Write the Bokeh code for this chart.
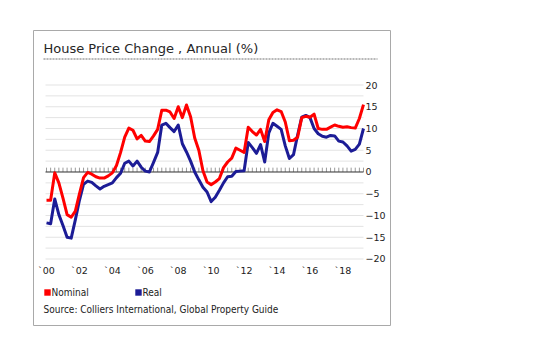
from bokeh.plotting import figure
from bokeh.models import (Label, BoxAnnotation, Legend, LegendItem,
                          FixedTicker, Range1d)
from bokeh.embed import file_html
from bokeh.resources import INLINE

# ---- data ----
quarters = [f"{y}Q{q}" for y in range(2000, 2020) for q in range(1, 5)][:78]

nominal = [-6.5, -6.5, -0.2, -2.5, -6.0, -9.8, -10.4, -9.0, -5.0, -1.3,
           -0.1, -0.5, -1.1, -1.4, -1.4, -0.9, -0.2, 1.5, 4.5, 8.0,
           10.1, 9.6, 7.6, 8.4, 7.1, 7.0, 8.3, 9.8, 14.2, 14.2,
           13.8, 12.3, 15.0, 12.5, 15.4, 12.7, 7.8, 5.0, 0.3, -2.3,
           -2.9, -2.3, -1.5, 1.0, 2.3, 3.2, 5.5, 5.0, 4.5, 10.3,
           9.3, 8.5, 9.8, 7.0, 12.0, 13.7, 14.3, 13.9, 11.5, 7.2,
           7.3, 8.0, 12.5, 12.8, 12.6, 13.3, 10.0, 9.8, 9.8, 10.3,
           10.8, 10.5, 10.3, 10.4, 10.2, 10.1, 12.3, 15.5]

real = [-11.7, -11.9, -6.2, -9.8, -12.3, -15.0, -15.2, -11.0, -6.5, -2.8,
        -2.1, -2.4, -3.2, -3.9, -3.3, -2.9, -2.5, -1.3, -0.3, 2.0,
        2.5, 1.4, 2.5, 1.1, 0.2, 0.0, 2.2, 4.5, 10.8, 11.2,
        10.2, 9.3, 10.8, 6.5, 4.6, 2.5, 0.0, -1.8, -3.5, -4.6,
        -6.8, -5.8, -4.2, -2.5, -1.1, -1.0, 0.1, 0.2, 0.3, 6.8,
        5.6, 4.3, 6.3, 2.3, 9.0, 11.2, 10.5, 9.8, 6.0, 3.1,
        4.0, 8.5, 12.6, 13.0, 12.5, 10.0, 8.8, 8.2, 8.0, 8.4,
        8.3, 7.1, 6.9, 6.0, 4.8, 5.2, 6.4, 10.0]

year_ticks = [2000, 2002, 2004, 2006, 2008, 2010, 2012, 2014, 2016, 2018]
year_labels = ["`00", "`02", "`04", "`06", "`08", "`10", "`12", "`14", "`16", "`18"]
y_ticks = [-20, -15, -10, -5, 0, 5, 10, 15, 20]

title_text = "House Price Change , Annual (%)"
source_text = "Source: Colliers International, Global Property Guide"
series_names = ["Nominal", "Real"]

# ---- styling / layout constants ----
RED = "#ff0000"
BLUE = "#1c1c96"
FONT = "DejaVu Sans"
SMALL_FONT = "DejaVu Sans Condensed, Liberation Sans Narrow, DejaVu Sans"
GRID_STEP = 2.5
CHART_X0, CHART_X1 = 1999.94, 2019.25      # plotting-area edges (data units)
CHART_Y0 = -20.8

x = [int(q[:4]) + (int(q[-1]) - 1) / 4 for q in quarters]

p = figure(width=540, height=355, output_backend="svg", toolbar_location=None,
           x_range=Range1d(1999.21, 2020.89), y_range=Range1d(-35.29, 32.53),
           y_axis_location="right",
           min_border_left=33, min_border_right=150,
           min_border_top=30, min_border_bottom=30)
p.outline_line_color = "#a9a9a9"
p.outline_line_width = 1
p.background_fill_color = "white"
p.border_fill_color = "white"
p.xgrid.visible = False
p.ygrid.visible = False

ya = p.yaxis[0]
ya.fixed_location = CHART_X1
ya.ticker = FixedTicker(ticks=y_ticks)
ya.axis_line_color = None
ya.major_tick_line_color = None
ya.minor_tick_line_color = None
ya.major_tick_out = 0
ya.major_label_standoff = 2
ya.major_label_text_font = FONT
ya.major_label_text_font_size = "9.5px"
ya.major_label_text_color = "#222222"

xa = p.xaxis[0]
xa.fixed_location = CHART_Y0
xa.ticker = FixedTicker(ticks=year_ticks)
xa.major_label_overrides = dict(zip(year_ticks, year_labels))
xa.axis_line_color = None
xa.major_tick_line_color = None
xa.minor_tick_line_color = None
xa.major_tick_out = 0
xa.major_label_standoff = 3
xa.major_label_text_font = FONT
xa.major_label_text_font_size = "9.5px"
xa.major_label_text_color = "#222222"

# horizontal grid lines across the plotting area
n_grid = int(round((y_ticks[-1] - y_ticks[0]) / GRID_STEP)) + 1
grid_vals = [y_ticks[0] + GRID_STEP * k for k in range(n_grid)]
p.segment(x0=[CHART_X0] * n_grid, y0=grid_vals, x1=[CHART_X1] * n_grid, y1=grid_vals,
          line_color="#e3e3e3", line_width=1)

# zero line with quarterly tick marks
p.segment(x0=x, y0=[0] * len(x), x1=x, y1=[1.0] * len(x),
          line_color="#9a9a9a", line_width=1)
p.segment(x0=[CHART_X0], y0=[0], x1=[CHART_X1], y1=[0],
          line_color="#3a3a3a", line_width=1)

p.line(x, real, line_color=BLUE, line_width=3, line_join="round")
p.line(x, nominal, line_color=RED, line_width=3, line_join="round")

# zero-size rects that only provide square legend swatches
sq_nom = p.rect(x=x, y=nominal, width=0, height=0, fill_color=RED, line_color=None)
sq_real = p.rect(x=x, y=real, width=0, height=0, fill_color=BLUE, line_color=None)
legend = Legend(items=[LegendItem(label=series_names[0], renderers=[sq_nom]),
                       LegendItem(label=series_names[1], renderers=[sq_real])],
                location=(9.5, 27.5), orientation="horizontal",
                glyph_width=8, glyph_height=8, label_standoff=1,
                label_width=82, label_height=10, spacing=0, padding=0, margin=0,
                border_line_color=None, background_fill_alpha=0,
                label_text_font=SMALL_FONT, label_text_font_size="10px",
                label_text_color="#222222")
p.add_layout(legend)

# dotted rule under the title
p.add_layout(BoxAnnotation(left=10, right=344, top=266.5, bottom=266.5,
                           left_units="screen", right_units="screen",
                           top_units="screen", bottom_units="screen",
                           fill_color=None, line_color="#000000", line_width=1,
                           line_dash="2 1"))

p.add_layout(Label(x=10, y=277.5, x_units="screen", y_units="screen",
                   text=title_text, text_baseline="middle",
                   text_font=FONT, text_font_size="13px", text_color="#262626"))
p.add_layout(Label(x=10, y=16.5, x_units="screen", y_units="screen",
                   text=source_text, text_baseline="middle",
                   text_font=SMALL_FONT, text_font_size="10px", text_color="#222222"))

open("out.html", "w").write(file_html(p, INLINE))
